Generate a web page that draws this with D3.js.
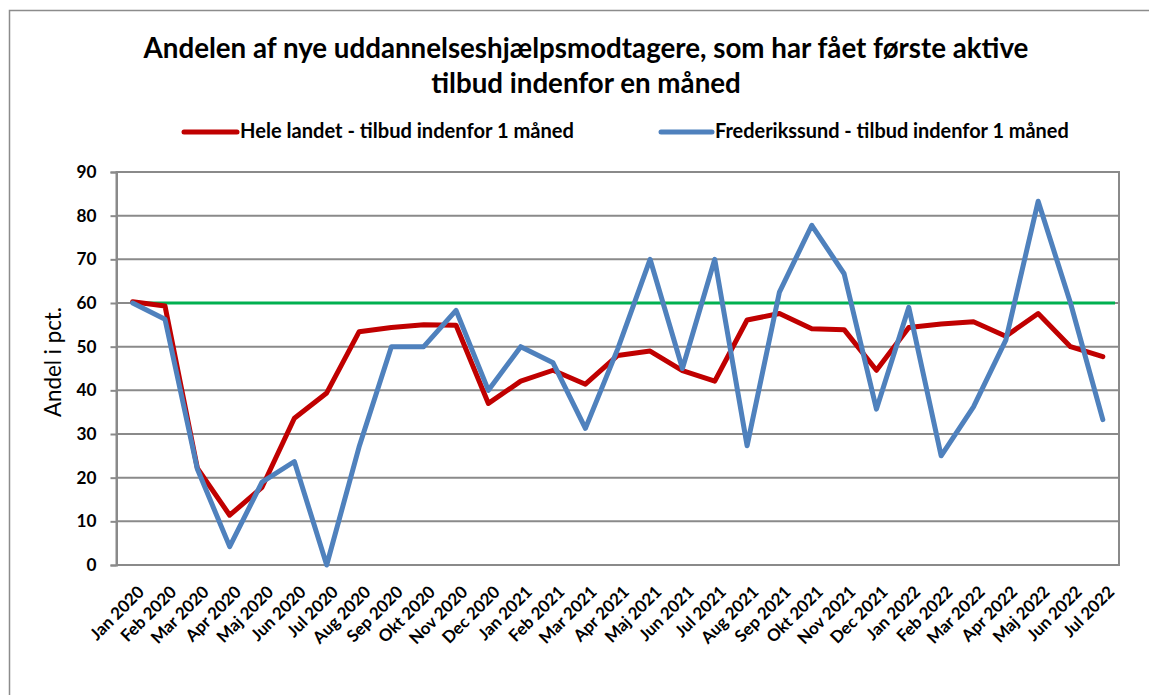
<!DOCTYPE html>
<html><head><meta charset="utf-8">
<script src="https://cdn.jsdelivr.net/npm/d3@7"></script>
<style>
html,body{margin:0;padding:0;background:#fff;}
svg{display:block;}
text{font-family:Lato,"Open Sans",sans-serif;fill:#000;}
</style></head>
<body>
<svg id="chart" width="1149" height="695"></svg>
<script>
const categories = ["Jan 2020","Feb 2020","Mar 2020","Apr 2020","Maj 2020","Jun 2020","Jul 2020","Aug 2020","Sep 2020","Okt 2020","Nov 2020","Dec 2020",
  "Jan 2021","Feb 2021","Mar 2021","Apr 2021","Maj 2021","Jun 2021","Jul 2021","Aug 2021","Sep 2021","Okt 2021","Nov 2021","Dec 2021",
  "Jan 2022","Feb 2022","Mar 2022","Apr 2022","Maj 2022","Jun 2022","Jul 2022"];
const heleLandet = [60.3,59.3,22.2,11.4,17.8,33.6,39.4,53.4,54.4,55.0,54.9,37.0,
  42.1,44.6,41.4,48.0,49.0,44.5,42.1,56.1,57.6,54.1,53.9,44.6,
  54.4,55.2,55.7,52.4,57.6,50.0,47.7];
const frederikssund = [60.0,56.3,22.0,4.2,19.0,23.7,0.0,27.0,50.0,50.0,58.3,40.0,
  50.0,46.3,31.3,49.5,70.0,45.0,70.0,27.3,62.5,77.8,66.7,35.7,
  59.0,25.0,36.2,51.5,83.3,60.0,33.3];
const target = 60;
const yTicks = [0,10,20,30,40,50,60,70,80,90];
const seriesNames = ["Hele landet - tilbud indenfor 1 måned","Frederikssund - tilbud indenfor 1 måned"];
const titleLines = ["Andelen af nye uddannelseshjælpsmodtagere, som har fået første aktive","tilbud indenfor en måned"];
const yLabel = "Andel i pct.";

const svg = d3.select("#chart");
const L = 116.5, R = 1119, T = 172, B = 565;
const x = d3.scalePoint().domain(categories).range([L, R]).padding(0.5);
const y = d3.scaleLinear().domain([0, 90]).range([B, T]);

// outer border
svg.append("rect").attr("x", 9.5).attr("y", 10.5).attr("width", 1160).attr("height", 700)
  .attr("fill", "none").attr("stroke", "#8c8c8c").attr("stroke-width", 1.5);

function fitText(sel, targetW) {
  const w = sel.node().getComputedTextLength();
  const fs = parseFloat(sel.attr("font-size"));
  const nfs = fs * targetW / w;
  sel.attr("font-size", nfs.toFixed(2));
  return nfs;
}

// title
const t1 = svg.append("text").attr("x", 586).attr("y", 58).attr("text-anchor", "middle")
  .attr("font-weight", "bold").attr("font-size", 22).text(titleLines[0]);
fitText(t1, 885);
const t2 = svg.append("text").attr("x", 586).attr("y", 93).attr("text-anchor", "middle")
  .attr("font-weight", "bold").attr("font-size", 22).text(titleLines[1]);
t2.attr("font-size", t1.attr("font-size"));

// legend
const legend = [
  {name: seriesNames[0], color: "#C00000", x0: 184, x1: 237, tx: 240, tw: 334},
  {name: seriesNames[1], color: "#4F81BD", x0: 661, x1: 712, tx: 715, tw: 354}
];
legend.forEach(d => {
  svg.append("line").attr("x1", d.x0).attr("x2", d.x1).attr("y1", 132).attr("y2", 132)
    .attr("stroke", d.color).attr("stroke-width", 5).attr("stroke-linecap", "round");
  const lt = svg.append("text").attr("x", d.tx).attr("y", 138).attr("font-weight", "bold")
    .attr("font-size", 15).text(d.name);
  fitText(lt, d.tw);
});

// gridlines
svg.append("g").selectAll("line").data(yTicks).join("line")
  .attr("x1", L).attr("x2", R).attr("y1", d => y(d)).attr("y2", d => y(d))
  .attr("stroke", "#8a8a8a").attr("stroke-width", 2);
// plot frame
svg.append("rect").attr("x", L).attr("y", T).attr("width", R - L).attr("height", B - T)
  .attr("fill", "none").attr("stroke", "#8a8a8a").attr("stroke-width", 2);

// measure sizes
const probe = svg.append("text").attr("font-weight", "bold").attr("font-size", 16).text("90");
const yTickFs = fitText(probe, 20);
probe.attr("font-size", 16).text("Sep 2020");
const xTickFs = fitText(probe, 71);
probe.remove();

// y axis
const yAxis = svg.append("g").attr("transform", `translate(${L},0)`)
  .call(d3.axisLeft(y).tickValues(yTicks).tickSize(6).tickPadding(14));
yAxis.attr("font-size", null).attr("font-family", null);
yAxis.select(".domain").attr("stroke", "#8a8a8a").attr("stroke-width", 2);
yAxis.selectAll(".tick line").attr("stroke", "#8a8a8a").attr("stroke-width", 2);
yAxis.selectAll(".tick text").attr("font-weight", "bold")
  .style("font-size", yTickFs + "px").attr("fill", "#000");

// y label
const yl = svg.append("text").attr("transform", "translate(61,362) rotate(-90)").attr("text-anchor", "middle")
  .attr("font-size", 16).text(yLabel);
fitText(yl, 110);

// x axis
const xAxis = svg.append("g").attr("transform", `translate(0,${B})`)
  .call(d3.axisBottom(x).tickSize(0).tickPadding(0));
xAxis.attr("font-size", null).attr("font-family", null);
xAxis.select(".domain").remove();
xAxis.selectAll(".tick text")
  .attr("font-weight", "bold").style("font-size", xTickFs + "px")
  .attr("fill", "#000").attr("text-anchor", "end")
  .attr("dy", 0).attr("y", 0)
  .attr("transform", "translate(12,28) rotate(-45)");

// target line
svg.append("line").attr("x1", x(categories[0])).attr("x2", R - 4)
  .attr("y1", y(target)).attr("y2", y(target))
  .attr("stroke", "#00B050").attr("stroke-width", 3);

const line = d3.line().x((d, i) => x(categories[i])).y(d => y(d));
svg.append("path").datum(heleLandet).attr("d", line).attr("fill", "none")
  .attr("stroke", "#C00000").attr("stroke-width", 5).attr("stroke-linejoin", "round").attr("stroke-linecap", "round");
svg.append("path").datum(frederikssund).attr("d", line).attr("fill", "none")
  .attr("stroke", "#4F81BD").attr("stroke-width", 5).attr("stroke-linejoin", "round").attr("stroke-linecap", "round");
</script>
</body></html>
